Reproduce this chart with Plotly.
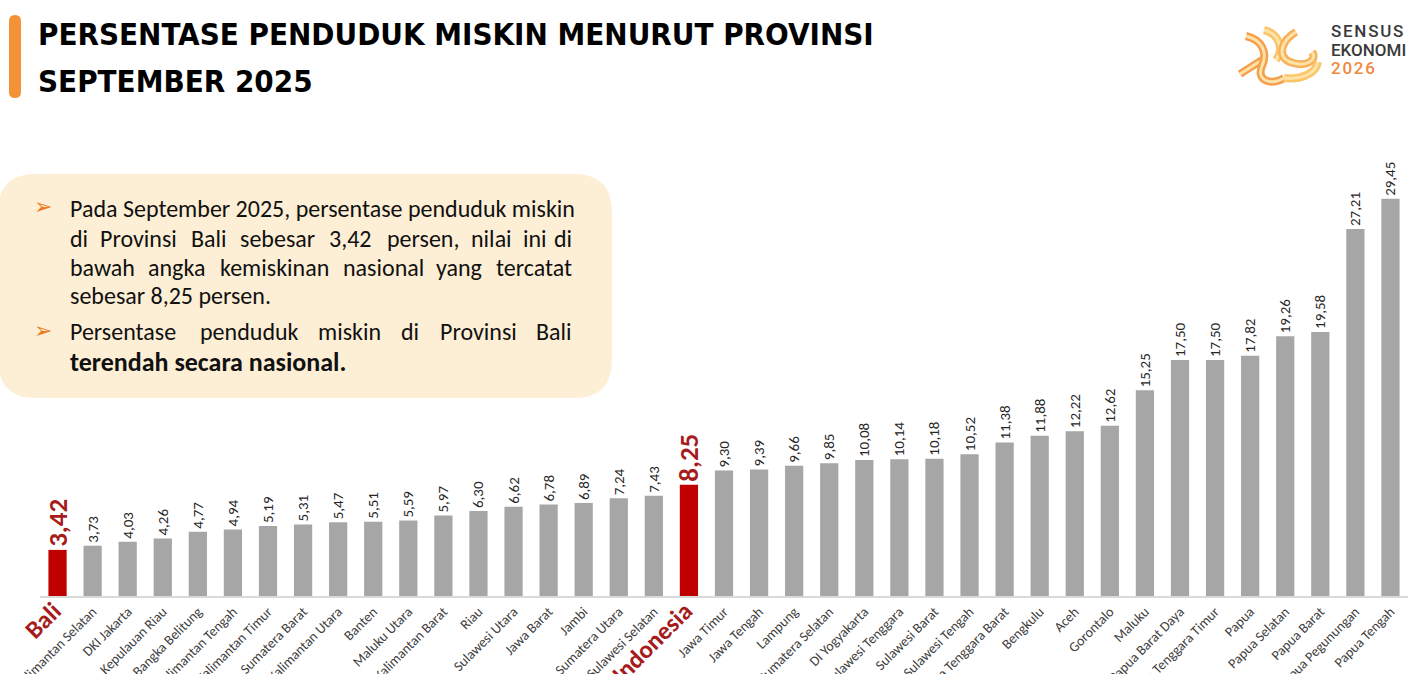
import plotly.graph_objects as go

# ---------------- data ----------------
provinces = ["Bali", "Kalimantan Selatan", "DKI Jakarta", "Kepulauan Riau",
             "Kepulauan Bangka Belitung", "Kalimantan Tengah", "Kalimantan Timur",
             "Sumatera Barat", "Kalimantan Utara", "Banten", "Maluku Utara",
             "Kalimantan Barat", "Riau", "Sulawesi Utara", "Jawa Barat", "Jambi",
             "Sumatera Utara", "Sulawesi Selatan", "Indonesia", "Jawa Timur",
             "Jawa Tengah", "Lampung", "Sumatera Selatan", "DI Yogyakarta",
             "Sulawesi Tenggara", "Sulawesi Barat", "Sulawesi Tengah",
             "Nusa Tenggara Barat", "Bengkulu", "Aceh", "Gorontalo", "Maluku",
             "Papua Barat Daya", "Nusa Tenggara Timur", "Papua", "Papua Selatan",
             "Papua Barat", "Papua Pegunungan", "Papua Tengah"]
values = [3.42, 3.73, 4.03, 4.26, 4.77, 4.94, 5.19, 5.31, 5.47, 5.51, 5.59,
          5.97, 6.30, 6.62, 6.78, 6.89, 7.24, 7.43, 8.25, 9.30, 9.39, 9.66,
          9.85, 10.08, 10.14, 10.18, 10.52, 11.38, 11.88, 12.22, 12.62, 15.25,
          17.50, 17.50, 17.82, 19.26, 19.58, 27.21, 29.45]
highlight = ["Bali", "Indonesia"]

title_line1 = "PERSENTASE PENDUDUK MISKIN MENURUT PROVINSI"
title_line2 = "SEPTEMBER 2025"

box_line1 = "Pada September 2025, persentase penduduk miskin"
box_line2 = "di Provinsi Bali sebesar 3,42 persen,  nilai ini di"
box_line3 = "bawah angka kemiskinan nasional yang tercatat"
box_line4 = "sebesar 8,25 persen."
box_line5 = "Persentase penduduk miskin di Provinsi Bali"
box_line6 = "terendah secara nasional."

# ---------------- styling ----------------
W, H = 1416, 674
ML, MR, MT, MB = 40, 8, 151, 78
PW = W - ML - MR
PH = H - MT - MB
GREY = "#A6A6A6"
RED = "#C00000"
DARKRED = "#A61C1C"
TXT_FONT = "Carlito, Lato, Liberation Sans, sans-serif"


def px(x):
    return (x - ML) / PW


def py(y):
    return (H - MB - y) / PH


def fmt(v):
    return f"{v:.2f}".replace(".", ",")


is_hl = [p in highlight for p in provinces]
colors = [RED if h else GREY for h in is_hl]
texts = [f"<b>{fmt(v)}</b>" if h else fmt(v) for v, h in zip(values, is_hl)]
tsize = [27 if h else 15 for h in is_hl]
tcolor = [DARKRED if h else "#262626" for h in is_hl]
ticktext = [f"<b><span style='font-size:25px;color:{DARKRED}'>{p}</span></b>" if h else p
            for p, h in zip(provinces, is_hl)]

fig = go.Figure()
fig.add_trace(go.Bar(
    x=list(range(len(provinces))), y=values,
    marker=dict(color=colors, line=dict(width=0)),
    text=texts, textposition="outside", textangle=-90,
    constraintext="none", cliponaxis=False,
    textfont=dict(size=tsize, color=tcolor, family=TXT_FONT),
    hoverinfo="skip",
))


def rounded_rect(x0, y0, x1, y1, r):
    pts = [
        f"M {px(x0 + r)},{py(y0)}",
        f"L {px(x1 - r)},{py(y0)}",
        f"Q {px(x1)},{py(y0)} {px(x1)},{py(y0 + r)}",
        f"L {px(x1)},{py(y1 - r)}",
        f"Q {px(x1)},{py(y1)} {px(x1 - r)},{py(y1)}",
        f"L {px(x0 + r)},{py(y1)}",
        f"Q {px(x0)},{py(y1)} {px(x0)},{py(y1 - r)}",
        f"L {px(x0)},{py(y0 + r)}",
        f"Q {px(x0)},{py(y0)} {px(x0 + r)},{py(y0)}",
        "Z",
    ]
    return " ".join(pts)


shapes = []
# text box
shapes.append(dict(type="path", xref="paper", yref="paper",
                   path=rounded_rect(-2, 174, 612, 398, 38),
                   fillcolor="#FDEFD5", line=dict(width=0), layer="below"))
# orange title bar
shapes.append(dict(type="path", xref="paper", yref="paper",
                   path=rounded_rect(9, 15, 21, 98, 6),
                   fillcolor="#F39237", line=dict(width=0)))

# logo ribbon (approximate)
ribbon_paths = [
    ("M 1240,74 L 1262,60", "#F6A04D"),
    ("M 1246,36 C 1262,40 1268,52 1262,66 C 1256,80 1270,86 1284,78", "#F6A04D"),
    ("M 1264,30 C 1280,34 1284,50 1276,60", "#FBC66A"),
    ("M 1296,32 C 1282,40 1276,56 1290,62 C 1306,68 1318,60 1312,52", "#F8B05A"),
    ("M 1284,78 C 1300,80 1316,74 1318,62", "#FBC66A"),
]
for d, c in ribbon_paths:
    out = []
    for t in d.split():
        if "," in t:
            a, b = t.split(",")
            out.append(f"{px(float(a))},{py(float(b))}")
        else:
            out.append(t)
    for w, col in [(8, c), (3, "#FDE3A8")]:
        shapes.append(dict(type="path", xref="paper", yref="paper",
                           path=" ".join(out), line=dict(color=col, width=w)))

annotations = []
TITLE_FONT = "DejaVu Sans Condensed, Liberation Sans Narrow, sans-serif"
annotations.append(dict(x=px(36), y=py(34), xref="paper", yref="paper",
                        text=f"<b>{title_line1}</b>", showarrow=False,
                        xanchor="left", yanchor="middle",
                        font=dict(family=TITLE_FONT, size=31, color="#000000")))
annotations.append(dict(x=px(36), y=py(81), xref="paper", yref="paper",
                        text=f"<b>{title_line2}</b>", showarrow=False,
                        xanchor="left", yanchor="middle",
                        font=dict(family=TITLE_FONT, size=31, color="#000000")))

# logo text
LOGO_FONT = "Roboto, Inter, sans-serif"
for txt, yy, col in [("S\u200aE\u200aN\u200aS\u200aU\u200aS", 31, "#3A3A3A"),
                     ("EKONOMI", 50, "#3A3A3A"),
                     ("2\u200a0\u200a2\u200a6", 68, "#F0883E")]:
    annotations.append(dict(x=px(1329), y=py(yy), xref="paper", yref="paper",
                            text=txt, showarrow=False,
                            xanchor="left", yanchor="middle",
                            font=dict(family=LOGO_FONT, size=17, color=col, weight=500)))

# approximate glyph widths (em) for the body font, used only to justify text
CW = {c: 0.52 for c in "abcdeghknopquvxyz"}
CW.update({"f": 0.31, "i": 0.23, "j": 0.23, "l": 0.23, "m": 0.8, "r": 0.36, "s": 0.42,
           "t": 0.34, "w": 0.74, ",": 0.22, ".": 0.22})


def est_width(word, size):
    tot = 0
    for ch in word:
        if ch.isdigit():
            tot += 0.58
        elif ch.isupper():
            tot += 0.6
        else:
            tot += CW.get(ch, 0.52)
    return tot * size * 0.96


LEFT_EDGE, RIGHT_EDGE = 68, 574
box_layout = [
    (box_line1, 208, False, False, 24),
    (box_line2, 238, True, False, 24),
    (box_line3, 267, True, False, 24),
    (box_line4, 295, False, False, 24),
    (box_line5, 331, True, False, 24),
    (box_line6, 362, False, True, 26),
]
for txt, yy, justify, bold, fs in box_layout:
    font = dict(family=TXT_FONT, size=fs, color="#111111")
    if not justify:
        annotations.append(dict(x=px(LEFT_EDGE), y=py(yy), xref="paper", yref="paper",
                                text=f"<b>{txt}</b>" if bold else txt, showarrow=False,
                                xanchor="left", yanchor="middle", font=font))
        continue
    words = txt.split()
    widths = [est_width(w, fs) for w in words]
    gap = (RIGHT_EDGE - LEFT_EDGE - sum(widths)) / (len(words) - 1)
    xcur = LEFT_EDGE
    for i, (w, ww) in enumerate(zip(words, widths)):
        last = i == len(words) - 1
        annotations.append(dict(x=px(RIGHT_EDGE if last else xcur), y=py(yy),
                                xref="paper", yref="paper", text=w, showarrow=False,
                                xanchor="right" if last else "left",
                                yanchor="middle", font=font))
        xcur += ww + gap

for yy in (207, 330):
    annotations.append(dict(x=px(43), y=py(yy), xref="paper", yref="paper",
                            text="➢", showarrow=False,
                            xanchor="center", yanchor="middle",
                            font=dict(family="DejaVu Sans", size=22, color="#EE7A1E")))

fig.update_layout(
    width=W, height=H,
    margin=dict(l=ML, r=MR, t=MT, b=MB, autoexpand=False),
    paper_bgcolor="white", plot_bgcolor="white",
    showlegend=False, bargap=0.48,
    shapes=shapes, annotations=annotations,
    xaxis=dict(tickmode="array", tickvals=list(range(len(provinces))), ticktext=ticktext,
               tickangle=-45, range=[-0.5, len(provinces) - 0.5],
               showline=True, linecolor="#D9D9D9", linewidth=2,
               ticks="", showgrid=False, zeroline=False, automargin=False,
               tickfont=dict(family=TXT_FONT, size=14, color="#404040")),
    yaxis=dict(range=[0, 33], visible=False, showgrid=False, zeroline=False),
)

fig.write_html("out.html", config={"displayModeBar": False},
               post_script="document.body.style.margin='0';")
